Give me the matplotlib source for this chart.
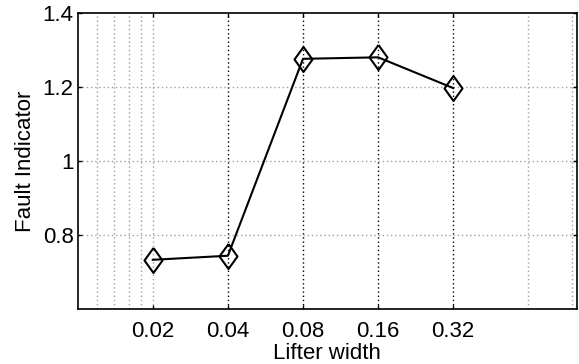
import matplotlib
matplotlib.use('Agg')
from matplotlib import pyplot as plt
from matplotlib.ticker import FixedLocator, NullFormatter

plt.rcParams['font.family'] = ['Liberation Sans', 'DejaVu Sans']

# data
lifter_width = [0.02, 0.04, 0.08, 0.16, 0.32]
fault_indicator = [0.734, 0.745, 1.277, 1.281, 1.198]
x_tick_labels = ['0.02', '0.04', '0.08', '0.16', '0.32']
y_ticks = [0.8, 1.0, 1.2, 1.4]
y_tick_labels = ['0.8', '1', '1.2', '1.4']
x_minor_grid = [0.012, 0.014, 0.016, 0.018, 0.02, 0.64, 0.96]

fig = plt.figure(figsize=(5.79, 3.64), dpi=100)
ax = fig.add_axes([0.1342, 0.150, 0.8618, 0.8135])

# tall diamond like the matlab one
diamond = [(0, 1), (0.72, 0), (0, -1), (-0.72, 0), (0, 1)]
ax.plot(lifter_width, fault_indicator, color='black', lw=1.5,
        marker=diamond, markersize=18, markerfacecolor='none',
        markeredgecolor='black', markeredgewidth=1.5, zorder=5)

ax.set_xscale('log')
ax.set_xlim(0.01, 1.0)
ax.set_ylim(0.6, 1.4)

ax.xaxis.set_major_locator(FixedLocator(lifter_width))
ax.set_xticklabels(x_tick_labels)
ax.xaxis.set_minor_locator(FixedLocator(x_minor_grid))
ax.xaxis.set_minor_formatter(NullFormatter())
ax.set_yticks(y_ticks)
ax.set_yticklabels(y_tick_labels)

# grid: dotted, major x darker
for xv in lifter_width[1:]:
    ax.axvline(xv, color='black', lw=1.0, ls=(0, (1, 2)), zorder=1)
for xv in x_minor_grid:
    ax.axvline(xv, color='#a0a0a0', lw=1.0, ls=(0, (1, 2)), zorder=1)
for yv in y_ticks[:-1]:
    ax.axhline(yv, color='#a0a0a0', lw=1.0, ls=(0, (1, 2)), zorder=1)

ax.tick_params(which='major', direction='in', length=3, width=1.0,
               top=True, right=True, labelsize=16, colors='black')
ax.tick_params(axis='x', which='major', pad=8)
ax.tick_params(axis='y', which='major', pad=3)
ax.tick_params(which='minor', length=0)

for sp in ax.spines.values():
    sp.set_linewidth(1.2)

ax.set_xlabel('Lifter width', fontsize=16)
ax.set_ylabel('Fault Indicator', fontsize=16)
ax.xaxis.set_label_coords(0.5, -0.114)
ax.yaxis.set_label_coords(-0.083, 0.5)

fig.savefig('out.png', dpi=100)
